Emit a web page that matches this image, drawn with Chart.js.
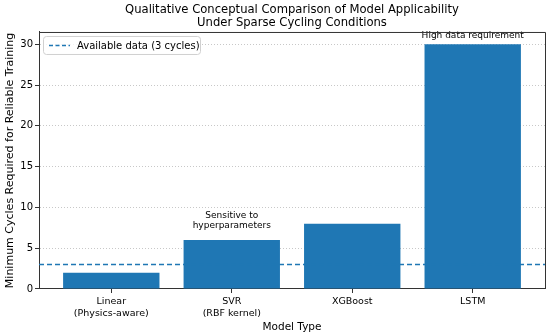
<!DOCTYPE html>
<html>
<head>
<meta charset="utf-8">
<script src="https://cdn.jsdelivr.net/npm/chart.js@4"></script>
<style>
  html, body { margin: 0; padding: 0; background: #fff; }
  #wrap { width: 550px; height: 336px; }
</style>
</head>
<body>
<div id="wrap"><canvas id="chart" width="550" height="336"></canvas></div>
<script>
// ─── Data ─────────────────────────────────────────────────────────────────────
const models = [['Linear', '(Physics-aware)'], ['SVR', '(RBF kernel)'], 'XGBoost', 'LSTM'];
const minCycles = [2, 6, 8, 30];
const availableCycles = 3;
const yTicks = [0, 5, 10, 15, 20, 25, 30];
const noteIdx = [1, 3];
const noteText = [['Sensitive to', 'hyperparameters'], ['High data requirement']];

const BLUE = '#1f77b4';
const FONT = 'DejaVu Sans';
const noteLift = [1.25, 0.55]; // gap above bar, in axis units

// ─── Frame, notes and legend box ──────────────────────────────────────────────
const extras = {
  id: 'extras',
  afterDatasetsDraw(chart) {
    const { ctx, chartArea: a, scales: { x, y } } = chart;
    ctx.save();
    // notes above bars
    ctx.fillStyle = '#000';
    ctx.font = `9px "${FONT}"`;
    ctx.textAlign = 'center';
    ctx.textBaseline = 'bottom';
    noteIdx.forEach((idx, k) => {
      const lines = noteText[k];
      const px = x.getPixelForValue(idx);
      const py = y.getPixelForValue(minCycles[idx] + noteLift[k]);
      lines.forEach((l, i) => {
        ctx.fillText(l, px, py - (lines.length - 1 - i) * 10);
      });
    });
    // top/right frame
    ctx.strokeStyle = '#333';
    ctx.lineWidth = 1;
    ctx.beginPath();
    ctx.moveTo(a.left, a.top + 0.5);
    ctx.lineTo(a.right + 0.5, a.top + 0.5);
    ctx.lineTo(a.right + 0.5, a.bottom);
    ctx.stroke();
    // legend
    const lx = a.left + 4, ly = a.top + 4, lw = 157, lh = 18;
    ctx.fillStyle = 'rgba(255,255,255,0.8)';
    ctx.strokeStyle = '#d0d0d0';
    ctx.beginPath();
    ctx.roundRect(lx + 0.5, ly + 0.5, lw, lh, 3);
    ctx.fill();
    ctx.stroke();
    ctx.strokeStyle = BLUE;
    ctx.lineWidth = 1.5;
    ctx.setLineDash([4, 2.5]);
    ctx.beginPath();
    ctx.moveTo(lx + 6, ly + lh / 2 + 0.5);
    ctx.lineTo(lx + 27, ly + lh / 2 + 0.5);
    ctx.stroke();
    ctx.setLineDash([]);
    ctx.fillStyle = '#000';
    ctx.font = `10px "${FONT}"`;
    ctx.textAlign = 'left';
    ctx.textBaseline = 'middle';
    ctx.fillText(`Available data (${availableCycles} cycles)`, lx + 34, ly + lh / 2 + 1);
    ctx.restore();
  }
};

new Chart(document.getElementById('chart'), {
  type: 'bar',
  data: {
    datasets: [
      {
        type: 'bar',
        label: 'Minimum cycles',
        data: minCycles.map((v, i) => ({ x: i, y: v })),
        backgroundColor: BLUE,
        barPercentage: 0.8,
        categoryPercentage: 1,
        order: 2,
      },
      {
        type: 'line',
        label: `Available data (${availableCycles} cycles)`,
        data: [{ x: -0.6, y: availableCycles }, { x: 3.6, y: availableCycles }],
        borderColor: BLUE,
        borderWidth: 1.5,
        borderDash: [5, 3],
        pointRadius: 0,
        order: 1,
      }
    ]
  },
  options: {
    responsive: false,
    animation: false,
    layout: { padding: { right: 5, left: 0, top: 0, bottom: 0 } },
    plugins: {
      legend: { display: false },
      tooltip: { enabled: false },
      title: {
        display: true,
        fullSize: false,
        text: ['Qualitative Conceptual Comparison of Model Applicability', 'Under Sparse Cycling Conditions'],
        color: '#000',
        font: { family: FONT, size: 11.6, weight: 'normal', lineHeight: 1.12 },
        padding: { top: 3, bottom: 3 },
      },
    },
    scales: {
      x: {
        type: 'linear',
        offset: false,
        min: -0.6, max: 3.6,
        afterBuildTicks: s => { s.ticks = models.map((m, i) => ({ value: i })); },
        afterFit: s => { s.height = 47; },
        ticks: {
          color: '#000',
          font: { family: FONT, size: 9.5, lineHeight: 1.25 },
          padding: 3,
          maxRotation: 0,
          autoSkip: false,
          callback: v => models[v],
        },
        grid: { drawOnChartArea: false, tickLength: 4, color: '#333', offset: false },
        border: { color: '#333' },
        title: {
          display: true, text: 'Model Type', color: '#000',
          font: { family: FONT, size: 10.5 }, padding: { top: 0, bottom: 2 }
        },
      },
      y: {
        min: 0, max: 31.5,
        afterBuildTicks: s => { s.ticks = yTicks.map(v => ({ value: v })); },
        afterFit: s => { s.width = 39; },
        ticks: { color: '#000', font: { family: FONT, size: 10 }, padding: 2 },
        grid: {
          color: '#c8c8c8',
          tickColor: '#333', tickBorderDash: [], tickLength: 4,
        },
        border: { color: '#333', dash: [1, 2] },
        title: {
          display: true, text: 'Minimum Cycles Required for Reliable Training', color: '#000',
          font: { family: FONT, size: 11 }, padding: { top: 4, bottom: 0 }
        },
      }
    }
  },
  plugins: [extras]
});
</script>
</body>
</html>
